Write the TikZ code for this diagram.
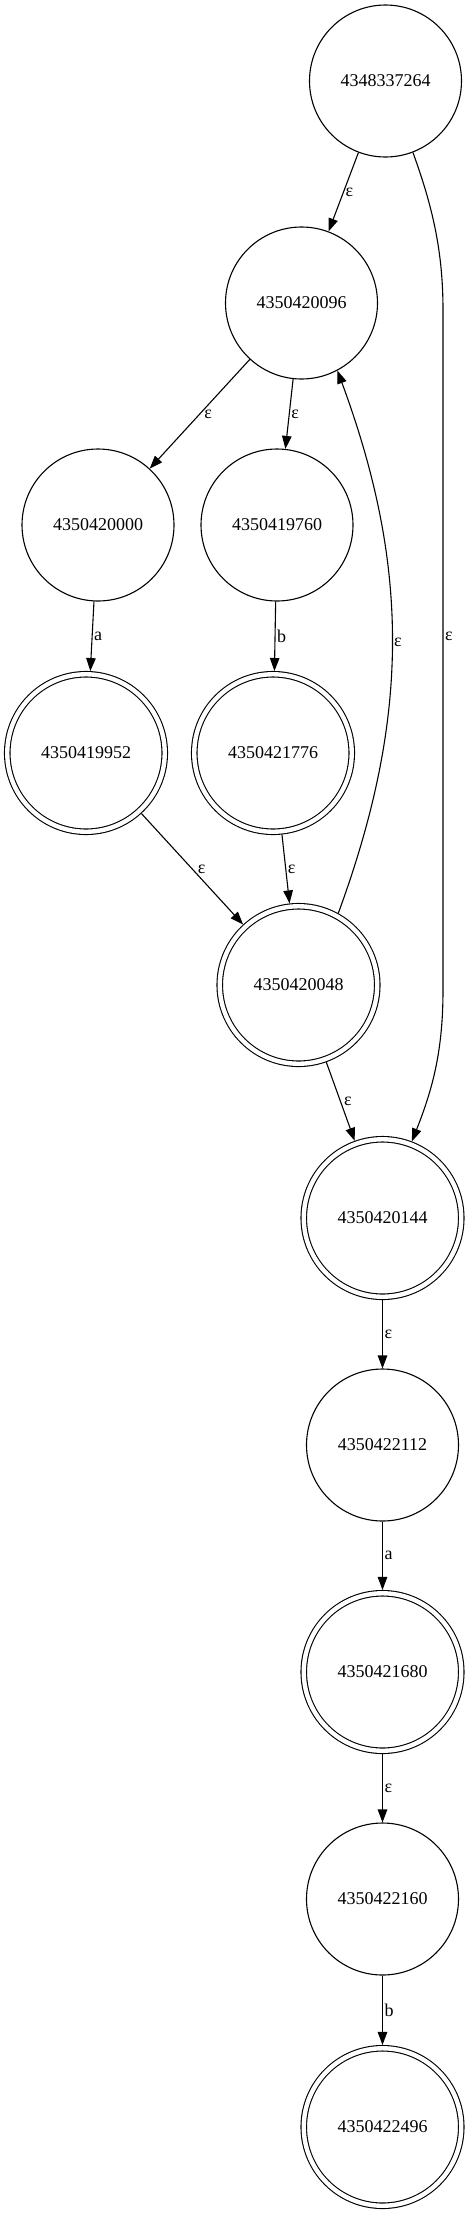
\documentclass[tikz,border=0pt]{standalone}
\usepackage{fontspec}
\setmainfont{Liberation Serif}
\usetikzlibrary{arrows.meta}
\tikzset{
  state/.style={circle, draw, line width=1.1pt, minimum size=152pt, inner sep=0pt, font=\fontsize{18}{22}\selectfont},
  final/.style={state, double, double distance=4.4pt, minimum size=157.5pt, outer sep=3.3pt},
  trans/.style={line width=1.1pt, -{Triangle[length=13pt,width=9.5pt]}},
  lbl/.style={right, inner sep=1.5pt, font=\fontsize{18}{22}\selectfont}
}
\begin{document}
\begin{tikzpicture}[x=1pt, y=-1pt]
    \useasboundingbox (0,0) rectangle (469,2214);

    % Estados
    \node[state] (s264) at (385.5,81) {4348337264};
    \node[state] (s096) at (301.5,303) {4350420096};
    \node[state] (s000) at (98,525) {4350420000};
    \node[state] (s760) at (277,525) {4350419760};
    \node[final] (s952) at (86,753) {4350419952};
    \node[final] (s776) at (273,753) {4350421776};
    \node[final] (s048) at (298.5,985) {4350420048};
    \node[final] (s144) at (382.5,1218) {4350420144};
    \node[state] (s112) at (382.5,1445) {4350422112};
    \node[final] (s680) at (382.5,1672) {4350421680};
    \node[state] (s160) at (382.5,1899) {4350422160};
    \node[final] (s496) at (382.5,2127) {4350422496};

    % Transiciones
    \draw[trans] (s264) -- node[lbl] {ε} (s096);
    \draw[trans] (s264.-69) .. controls (432,205) and (443,250) .. (443,310)
        -- node[lbl, pos=0.48] {ε} (443,990)
        .. controls (443,1050) and (433,1088) .. (s144.69);
    \draw[trans] (s096) -- node[lbl, inner sep=4pt] {ε} (s000);
    \draw[trans] (s096) -- node[lbl] {ε} (s760);
    \draw[trans] (s000) -- node[lbl] {a} (s952);
    \draw[trans] (s760) -- node[lbl] {b} (s776);
    \draw[trans] (s952) -- node[lbl, inner sep=5pt] {ε} (s048);
    \draw[trans] (s776) -- node[lbl] {ε} (s048);
    \draw[trans] (s048.61) .. controls (410,718) and (410,567) .. node[lbl] {ε} (s096.-62);
    \draw[trans] (s048) -- node[lbl, inner sep=3pt] {ε} (s144);
    \draw[trans] (s144) -- node[lbl] {ε} (s112);
    \draw[trans] (s112) -- node[lbl] {a} (s680);
    \draw[trans] (s680) -- node[lbl] {ε} (s160);
    \draw[trans] (s160) -- node[lbl] {b} (s496);
\end{tikzpicture}
\end{document}
